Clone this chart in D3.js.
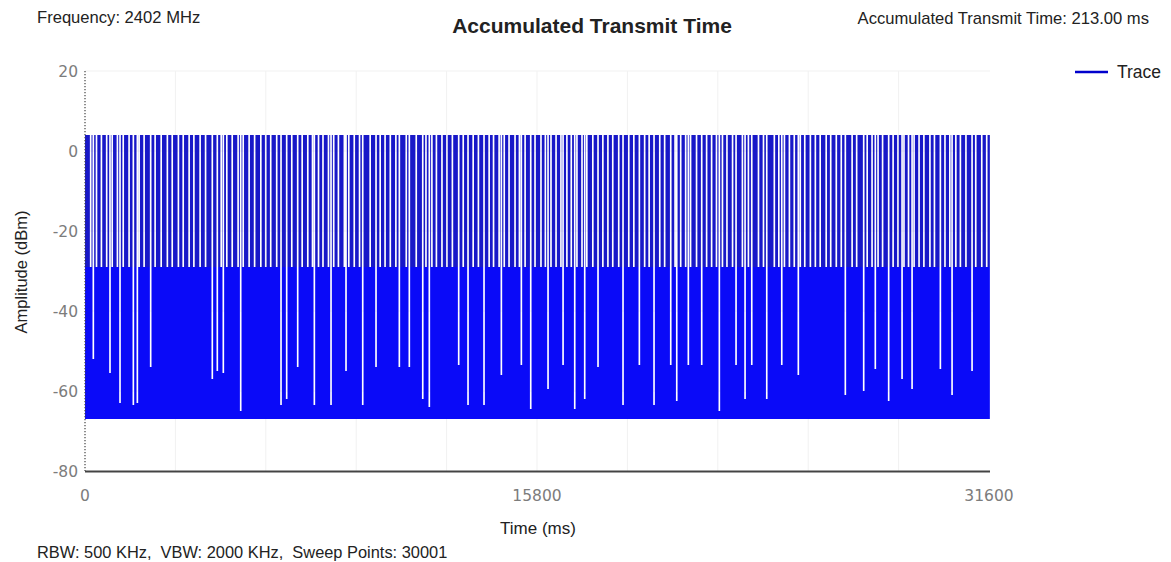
<!DOCTYPE html>
<html>
<head>
<meta charset="utf-8">
<script src="https://cdn.jsdelivr.net/npm/d3@7"></script>
<style>
  body { margin: 0; background: #fff; }
  svg text { font-family: "Liberation Sans", Arial, sans-serif; }
  svg text.tick { font-family: "DejaVu Sans", Verdana, sans-serif; }
</style>
</head>
<body>
<svg id="chart" width="1171" height="562"></svg>
<script>
// ---------------- data ----------------
const xTicks = [0, 15800, 31600];
const yTicks = [20, 0, -20, -40, -60, -80];
const xGrid = [3160, 6320, 9480, 12640, 15800, 18960, 22120, 25280, 28440];

const traceSpan = [0, 31630];      // ms covered by the trace
const peakDbm = 4;                 // top of the bursts
const noiseTopDbm = -29;           // top of the noise band
const floorDbm = -67;              // bottom of the trace

// white gaps in the upper band (no burst in that column), ms
const gapMs = [
  199, 402, 574, 758, 951, 1133, 1336, 1541, 1709, 1892, 2066, 2270, 2451, 2663, 2879, 3049,
  3265, 3433, 3640, 3806, 4024, 4215, 4398, 4572, 4761, 4957, 5146, 5352, 5530, 5737, 5929, 6146,
  6318, 6492, 6701, 6866, 7059, 7228, 7437, 7591, 7788, 7952, 8163, 8319, 8511, 8694, 8858, 9066,
  9221, 9412, 9597, 9761, 9968, 10120, 10318, 10489, 10672, 10867, 11021, 11230, 11387, 11579, 11758, 11919,
  12126, 12284, 12478, 12651,
  12842, 13013, 13221, 13378, 13569, 13752, 13919, 14127, 14281, 14476, 14655, 14823, 15032, 15186, 15384, 15560,
  15731, 15939, 16092, 16289, 16466, 16637, 16845, 16998, 17196, 17373, 17542, 17751, 17905, 18102, 18279, 18448,
  18657, 18812, 19008,
  19185, 19356, 19563, 19720, 19917, 20091, 20262, 20470, 20626, 20823, 20997, 21168, 21377, 21533, 21729, 21904,
  22074, 22283, 22440, 22636, 22810, 22980, 23190, 23347, 23542, 23717, 23886, 24096, 24253, 24449, 24623, 24793,
  25003, 25160, 25356,
  25530, 25699, 25909, 26067, 26262, 26436, 26605, 26815, 26974, 27168, 27342, 27512, 27722, 27880, 28075, 28248,
  28418, 28628, 28787, 28981, 29155, 29324, 29535, 29693, 29888, 30061, 30231, 30441, 30600, 30794, 30968, 31137,
  31347, 31520
];

// deeper gaps reaching into the noise band: time (ms) and lowest blue level (dBm)
const deepGapMs = [
  291, 874, 1224, 1690, 1830, 2296, 4450, 4625, 4835, 5443,
  6852, 7050, 7435, 8017, 8600, 9124, 9708, 10173, 10988, 11337, 11806, 12036,
  13063, 13389, 13948, 14554, 15253, 15581, 16186, 16711, 17119, 17468, 17933, 18807,
  19378, 19891, 20475, 20685, 21090, 21558, 22174, 22758, 23073, 23307, 23831, 24356, 24935,
  26578, 27220, 27626, 28093, 28561, 28911, 29900, 30309, 31008
];
const deepGapDbm = [
  -52, -55.5, -63, -63.5, -63, -54, -57, -55, -55.5, -65,
  -63.5, -62, -54, -63.5, -63.5, -55, -63.5, -54, -54, -54, -62, -64,
  -53.5, -63.5, -63.5, -56, -53.5, -64.5, -59.5, -53.5, -64.5, -62, -54, -63.5,
  -53.5, -63.5, -53.5, -62.5, -53.5, -53.5, -65, -53.5, -62, -53.5, -62, -53.5, -56,
  -61, -60, -54.5, -62.5, -57, -59.5, -54.5, -61, -55
];

// ---------------- layout ----------------
const svg = d3.select("#chart");
const plotL = 85, plotR = 989, plotT = 71, plotB = 471;

const x = d3.scaleLinear().domain([0, 31600]).range([plotL, plotR]);
const y = d3.scaleLinear().domain([20, -80]).range([plotT, plotB]);

// grid
svg.append("g")
  .selectAll("line")
  .data(xGrid)
  .join("line")
  .attr("x1", d => x(d)).attr("x2", d => x(d))
  .attr("y1", plotT).attr("y2", plotB)
  .attr("stroke", "#f1f1f1").attr("stroke-width", 1);

svg.append("g")
  .selectAll("line")
  .data(yTicks.filter(d => d > -80))
  .join("line")
  .attr("x1", plotL).attr("x2", x(31600) + 1)
  .attr("y1", d => y(d)).attr("y2", d => y(d))
  .attr("stroke", "#f1f1f1").attr("stroke-width", 1);

// ---------------- trace ----------------
const gapW = 58; // ms, width of one white column

let gaps = gapMs.map(t => ({ t: t, v: noiseTopDbm }))
  .concat(deepGapMs.map((t, i) => ({ t: t, v: deepGapDbm[i] })))
  .sort((a, b) => a.t - b.t);
const merged = [];
gaps.forEach(g => {
  const last = merged[merged.length - 1];
  if (last && g.t - last.t < gapW) {
    if (g.v < last.v) merged[merged.length - 1] = g;
  } else merged.push(g);
});

// upper band (bursts)
const upper = [{ t: traceSpan[0], v: peakDbm }];
merged.forEach(g => {
  upper.push({ t: g.t - gapW / 2, v: noiseTopDbm });
  upper.push({ t: g.t + gapW / 2, v: peakDbm });
});
upper.push({ t: traceSpan[1], v: peakDbm });

// lower band (noise), cut by the deep gaps
const lower = [{ t: traceSpan[0], v: noiseTopDbm }];
merged.filter(g => g.v < noiseTopDbm).forEach(g => {
  lower.push({ t: g.t - gapW / 2, v: g.v });
  lower.push({ t: g.t + gapW / 2, v: noiseTopDbm });
});
lower.push({ t: traceSpan[1], v: noiseTopDbm });

const upperArea = d3.area()
  .x(d => x(d.t))
  .y0(y(noiseTopDbm))
  .y1(d => y(d.v))
  .curve(d3.curveStepAfter);

const lowerArea = d3.area()
  .x(d => x(d.t))
  .y0(y(floorDbm))
  .y1(d => y(d.v))
  .curve(d3.curveStepAfter);

svg.append("path").datum(lower).attr("d", lowerArea).attr("fill", "#0a0af8");
svg.append("path").datum(upper).attr("d", upperArea).attr("fill", "#1818c8");

// ---------------- axes ----------------
// dotted left axis
svg.append("line")
  .attr("x1", plotL).attr("x2", plotL)
  .attr("y1", plotT).attr("y2", plotB)
  .attr("stroke", "#444").attr("stroke-width", 1.2)
  .attr("stroke-dasharray", "1.2,1.8");

// solid bottom axis
svg.append("line")
  .attr("x1", plotL).attr("x2", x(31600) + 1)
  .attr("y1", plotB + 0.5).attr("y2", plotB + 0.5)
  .attr("stroke", "#444").attr("stroke-width", 2);

svg.append("g")
  .selectAll("text")
  .data(yTicks)
  .join("text")
  .attr("class", "tick")
  .attr("x", plotL - 7)
  .attr("y", d => y(d) + 5.5)
  .attr("text-anchor", "end")
  .attr("font-size", 15.5)
  .attr("fill", "#7c7c7c")
  .text(d => d);

svg.append("g")
  .selectAll("text")
  .data(xTicks)
  .join("text")
  .attr("class", "tick")
  .attr("x", d => x(d))
  .attr("y", plotB + 30)
  .attr("text-anchor", "middle")
  .attr("font-size", 15.5)
  .attr("fill", "#7c7c7c")
  .text(d => d);

// axis titles
svg.append("text")
  .attr("x", 538).attr("y", 534)
  .attr("text-anchor", "middle")
  .attr("font-size", 17).attr("fill", "#222")
  .text("Time (ms)");

svg.append("text")
  .attr("transform", "translate(27,272) rotate(-90)")
  .attr("text-anchor", "middle")
  .attr("font-size", 16.5).attr("fill", "#222")
  .text("Amplitude (dBm)");

// ---------------- header / footer texts ----------------
svg.append("text")
  .attr("x", 37).attr("y", 23)
  .attr("font-size", 16.6).attr("fill", "#222")
  .text("Frequency: 2402 MHz");

svg.append("text")
  .attr("x", 592).attr("y", 33)
  .attr("text-anchor", "middle")
  .attr("font-size", 21).attr("font-weight", "bold").attr("fill", "#222")
  .text("Accumulated Transmit Time");

svg.append("text")
  .attr("x", 1149).attr("y", 24)
  .attr("text-anchor", "end")
  .attr("font-size", 16.6).attr("fill", "#222")
  .text("Accumulated Transmit Time: 213.00 ms");

svg.append("text")
  .attr("x", 37).attr("y", 558)
  .attr("font-size", 16.4).attr("fill", "#222")
  .attr("xml:space", "preserve")
  .text("RBW: 500 KHz,  VBW: 2000 KHz,  Sweep Points: 30001");

// legend
svg.append("line")
  .attr("x1", 1075).attr("x2", 1108)
  .attr("y1", 72).attr("y2", 72)
  .attr("stroke", "#0000cc").attr("stroke-width", 2.5);
svg.append("text")
  .attr("x", 1117).attr("y", 78)
  .attr("font-size", 17.5).attr("fill", "#222")
  .text("Trace");
</script>
</body>
</html>
